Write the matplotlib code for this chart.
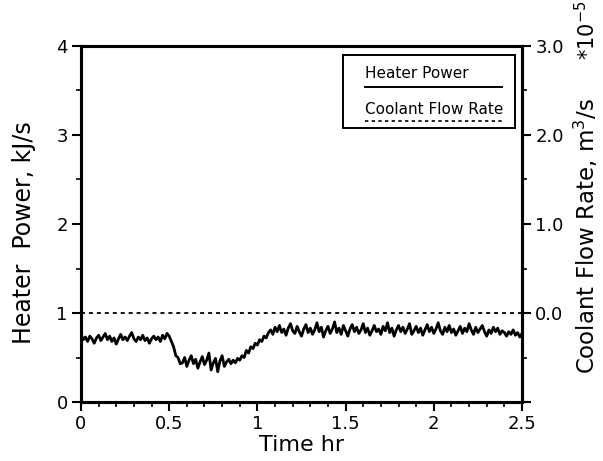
import matplotlib
matplotlib.use("Agg")
import matplotlib.pyplot as plt
from matplotlib.patches import Rectangle
from matplotlib.ticker import MultipleLocator, FixedLocator
import numpy as np

''' DATOS '''
# tiempo cada 0.0125 h (0 .. 2.5)
dt = 0.0125
# potencia del calentador, kJ/s
potencia_inicio = [0.76, 0.70, 0.73, 0.68, 0.74, 0.71, 0.66, 0.72, 0.75, 0.69,
                   0.73, 0.77, 0.70, 0.74, 0.68, 0.72, 0.65, 0.71, 0.76, 0.70,
                   0.73, 0.69, 0.74, 0.78, 0.71, 0.68, 0.73, 0.70, 0.75, 0.69,
                   0.72, 0.66, 0.71, 0.74, 0.70, 0.73, 0.68, 0.75, 0.71, 0.77]
potencia_caida = [0.74, 0.68, 0.62, 0.52, 0.50, 0.43]
potencia_valle = [0.44, 0.50, 0.40, 0.47, 0.52, 0.43, 0.48, 0.38, 0.45, 0.51,
                  0.42, 0.47, 0.55, 0.36, 0.44, 0.49, 0.34, 0.46, 0.52, 0.40,
                  0.45, 0.48, 0.43, 0.47, 0.44, 0.49]
potencia_subida = [0.47, 0.52, 0.50, 0.58, 0.55, 0.62, 0.60, 0.66, 0.64, 0.70,
                   0.68, 0.74, 0.72, 0.78]
potencia_final = [0.81, 0.76, 0.84, 0.79, 0.86, 0.78, 0.82, 0.75, 0.83, 0.88,
                  0.80, 0.77, 0.85, 0.79, 0.74, 0.82, 0.87, 0.78, 0.83, 0.76,
                  0.81, 0.89, 0.79, 0.84, 0.73, 0.80, 0.85, 0.77, 0.82, 0.90,
                  0.78, 0.83, 0.76, 0.86, 0.80, 0.74, 0.82, 0.87, 0.79, 0.84,
                  0.77, 0.81, 0.88, 0.78, 0.83, 0.75, 0.80, 0.86, 0.79, 0.82,
                  0.76, 0.85, 0.80, 0.89, 0.78, 0.83, 0.74, 0.81, 0.86, 0.79,
                  0.84, 0.77, 0.82, 0.88, 0.76, 0.80, 0.85, 0.78, 0.83, 0.75,
                  0.81, 0.87, 0.79, 0.84, 0.77, 0.82, 0.89, 0.80, 0.76, 0.84,
                  0.79, 0.86, 0.78, 0.82, 0.75, 0.80, 0.85, 0.77, 0.83, 0.79,
                  0.88, 0.81, 0.76, 0.84, 0.78, 0.82, 0.86, 0.79, 0.74, 0.81,
                  0.77, 0.84, 0.79, 0.83, 0.76, 0.80, 0.78, 0.74, 0.79, 0.76,
                  0.81, 0.75, 0.78, 0.73, 0.77]
potencia = potencia_inicio + potencia_caida + potencia_valle + potencia_subida + potencia_final
tiempo = np.arange(len(potencia)) * dt

# caudal de refrigerante (*1e-5 m3/s)
tiempo_caudal = [0.0, 2.5]
caudal = [0.0, 0.0]

x_ticks = [0, 0.5, 1, 1.5, 2, 2.5]
x_labels = ["0", "0.5", "1", "1.5", "2", "2.5"]
der_ticks = [-1.0, 0.0, 1.0, 2.0, 3.0]
der_labels = ["", "0.0", "1.0", "2.0", "3.0"]

''' FIGURA '''
plt.rcParams["font.family"] = "DejaVu Sans"
fig = plt.figure(figsize=(6.03, 4.61), dpi=100)
ax = fig.add_axes([81 / 603, 59 / 461, 441 / 603, 356 / 461])
ax2 = ax.twinx()

ax.plot(tiempo, potencia, color="black", lw=2.0)
ax2.plot(tiempo_caudal, caudal, color="black", lw=1.3, linestyle=(0, (2.2, 2.2)))

ax.set_xlim(0, 2.5)
ax.set_ylim(0, 4)
ax2.set_ylim(-1, 3)

ax.xaxis.set_major_locator(FixedLocator(x_ticks))
ax.set_xticklabels(x_labels)
ax.xaxis.set_minor_locator(MultipleLocator(0.1))
ax.yaxis.set_major_locator(MultipleLocator(1))
ax.yaxis.set_minor_locator(MultipleLocator(0.5))
ax2.yaxis.set_major_locator(FixedLocator(der_ticks))
ax2.set_yticklabels(der_labels)
ax2.yaxis.set_minor_locator(MultipleLocator(0.5))

for a in (ax, ax2):
    for s in a.spines.values():
        s.set_linewidth(2.2)
    a.tick_params(which="major", direction="out", length=6.5, width=1.5, labelsize=13, pad=3)
    a.tick_params(which="minor", direction="out", length=3.5, width=1.2)
ax.tick_params(axis="y", which="both", right=False)
ax.tick_params(axis="x", which="both", top=False)

ax.set_xlabel("Time hr", fontsize=16, labelpad=1)

# Etiquetas de los ejes verticales como texto de figura
fig.text(24 / 603, 1 - 233 / 461, "Heater  Power, kJ/s", rotation=90, fontsize=17,
         ha="center", va="center")
fig.text(586 / 603, 1 - 236 / 461, "Coolant Flow Rate, m$^3$/s", rotation=90, fontsize=16.5,
         ha="center", va="center")
fig.text(587 / 603, 1 - 30 / 461, "*10$^{-5}$", rotation=90, fontsize=15,
         ha="center", va="center")

# Leyenda dibujada a mano (texto con la linea debajo)
ax.add_patch(Rectangle((0.594, 0.770), 0.39, 0.205, transform=ax.transAxes,
                       fill=False, lw=1.4, color="black", zorder=5))
ax.text(0.644, 0.922, "Heater Power", transform=ax.transAxes, fontsize=11,
        ha="left", va="center")
ax.plot([0.644, 0.955], [0.885, 0.885], transform=ax.transAxes, color="black", lw=1.4)
ax.text(0.644, 0.822, "Coolant Flow Rate", transform=ax.transAxes, fontsize=11,
        ha="left", va="center")
ax.plot([0.644, 0.955], [0.789, 0.789], transform=ax.transAxes, color="black", lw=1.2,
        linestyle=(0, (2, 2)))

plt.savefig("out.png", dpi=100, facecolor="white")
plt.close()
